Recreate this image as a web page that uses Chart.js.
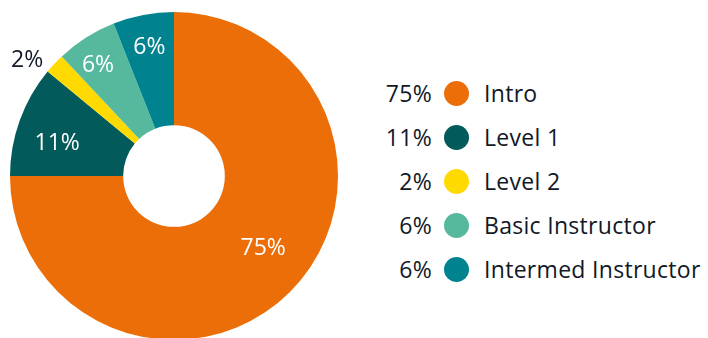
<!DOCTYPE html>
<html>
<head>
<meta charset="utf-8">
<script src="https://cdn.jsdelivr.net/npm/chart.js@4"></script>
<style>
  html, body { margin: 0; padding: 0; background: #fff; }
  body { width: 708px; height: 338px; overflow: hidden; position: relative; font-family: "Open Sans", "Noto Sans", sans-serif; }
  #pie-wrap { position: absolute; left: 0; top: 0; width: 348px; height: 352px; }
  #legend { position: absolute; left: 366px; top: 71px; }
  .leg-row { display: flex; align-items: center; height: 44px; font-size: 23px; letter-spacing: 0.3px; color: #111827; }
  .leg-pct { width: 66px; text-align: right; }
  .leg-dot { width: 25px; height: 25px; border-radius: 50%; margin: 0 15px 0 12px; }
</style>
</head>
<body>
<div id="pie-wrap"><canvas id="courseChart"></canvas></div>
<div id="legend"></div>
<script>
// course level share, percent
const levels = ['Intro', 'Level 1', 'Level 2', 'Basic Instructor', 'Intermed Instructor'];
const shares = [75, 11, 2, 6, 6];
const sliceColors = ['#EC6E08', '#035A5B', '#FFDA00', '#56B99E', '#00838E'];

// where each label sits: radius as fraction of outer radius, angle nudge in degrees
const labelSpots = [
    { r: 0.70, shift: -6, color: '#ffffff' },
    { r: 0.74, shift: -4, color: '#ffffff' },
    { r: 1.14, shift: -5, color: '#111827' },
    { r: 0.82, shift: -2, color: '#ffffff' },
    { r: 0.80, shift: 0, color: '#ffffff' }
];

const sliceLabels = {
    id: 'sliceLabels',
    afterDatasetsDraw(chart) {
        const ctx = chart.ctx;
        const arcs = chart.getDatasetMeta(0).data;
        ctx.save();
        ctx.font = '23px "Open Sans", "Noto Sans", sans-serif';
        ctx.textAlign = 'center';
        ctx.textBaseline = 'middle';
        arcs.forEach((arc, i) => {
            const spot = labelSpots[i];
            const mid = (arc.startAngle + arc.endAngle) / 2 + spot.shift * Math.PI / 180;
            const rad = arc.outerRadius * spot.r;
            ctx.fillStyle = spot.color;
            ctx.fillText(shares[i] + '%', arc.x + Math.cos(mid) * rad, arc.y + Math.sin(mid) * rad);
        });
        ctx.restore();
    }
};

new Chart(document.getElementById('courseChart'), {
    type: 'doughnut',
    data: {
        labels: levels,
        datasets: [{ data: shares, backgroundColor: sliceColors, borderWidth: 0 }]
    },
    options: {
        responsive: true,
        maintainAspectRatio: false,
        animation: false,
        cutout: '31%',
        layout: { padding: { left: 10, right: 10, top: 12, bottom: 12 } },
        plugins: { legend: { display: false }, tooltip: { enabled: false } }
    },
    plugins: [sliceLabels]
});

// legend: percent, dot, name
const legendBox = document.getElementById('legend');
levels.forEach((name, i) => {
    const row = document.createElement('div');
    row.className = 'leg-row';
    row.innerHTML = `<span class="leg-pct">${shares[i]}%</span><span class="leg-dot" style="background:${sliceColors[i]}"></span><span>${name}</span>`;
    legendBox.appendChild(row);
});
</script>
</body>
</html>
